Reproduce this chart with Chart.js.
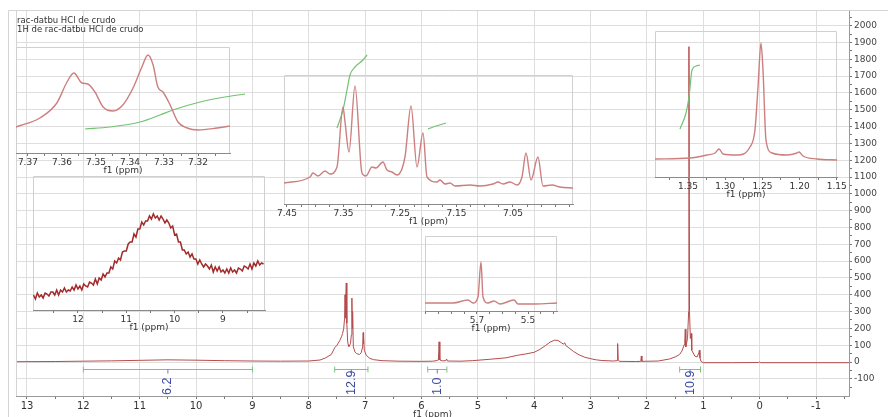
<!DOCTYPE html>
<html>
<head>
<meta charset="utf-8">
<script src="https://cdn.jsdelivr.net/npm/chart.js@4.4.1/dist/chart.umd.min.js"></script>
<style>
html, body { margin: 0; padding: 0; background: #fff; }
#hoja { position: relative; width: 888px; height: 417px; overflow: hidden; }
canvas { position: absolute; }
</style>
</head>
<body>
<div id="hoja">
  <canvas id="principal" width="888" height="417" style="left:0;top:0"></canvas>
  <canvas id="insA"></canvas>
  <canvas id="insB"></canvas>
  <canvas id="insC"></canvas>
  <canvas id="insD"></canvas>
  <canvas id="insE"></canvas>
</div>
<script>
// espectro completo 1H (ppm / intensidad)
var ppmEspectro = [13.2, 12.5, 12.0, 11.5, 11.0, 10.5, 10.0, 9.5, 9.0, 8.5, 8.0, 7.8, 7.7, 7.6, 7.54, 7.5, 7.45, 7.42, 7.40, 7.38, 7.365, 7.357, 7.35, 7.345, 7.335, 7.325, 7.31, 7.29, 7.26, 7.245, 7.235, 7.228, 7.222, 7.21, 7.18, 7.15, 7.10, 7.07, 7.045, 7.035, 7.03, 7.025, 7.015, 6.98, 6.92, 6.85, 6.7, 6.4, 6.0, 5.8, 5.74, 5.70, 5.688, 5.675, 5.63, 5.57, 5.555, 5.54, 5.3, 5.1, 4.8, 4.5, 4.3, 4.15, 4.0, 3.9, 3.8, 3.72, 3.64, 3.58, 3.52, 3.48, 3.46, 3.44, 3.4, 3.3, 3.2, 3.1, 3.0, 2.9, 2.8, 2.6, 2.53, 2.52, 2.51, 2.49, 2.2, 2.11, 2.1, 2.09, 1.8, 1.6, 1.5, 1.42, 1.38, 1.33, 1.32, 1.31, 1.28, 1.26, 1.255, 1.245, 1.23, 1.215, 1.205, 1.15, 1.11, 1.08, 1.07, 1.06, 1.04, 1.0, 0.5, 0.02, 0.0, -0.02, -1.6];
var intEspectro = [2, 3, 5, 7, 10, 13, 11, 8, 6, 5, 6, 12, 25, 45, 85, 100, 128, 150, 170, 200, 260, 400, 260, 340, 470, 230, 120, 90, 110, 160, 380, 200, 300, 90, 60, 50, 45, 55, 90, 175, 110, 150, 70, 40, 22, 14, 8, 5, 4, 5, 8, 12, 120, 12, 7, 8, 18, 6, 5, 8, 16, 25, 40, 48, 58, 75, 98, 118, 130, 128, 115, 106, 115, 98, 88, 62, 42, 28, 20, 13, 9, 6, 8, 110, 15, 4, 3, 4, 36, 4, 6, 18, 30, 45, 65, 110, 195, 90, 140, 300, 1875, 300, 140, 170, 70, 35, 30, 55, 70, 25, 3, -4, -4, -3, 0, -4, -4];
var ejeX = [13, 12, 11, 10, 9, 8, 7, 6, 5, 4, 3, 2, 1, 0, -1];
var ejeY = [-100, 0, 100, 200, 300, 400, 500, 600, 700, 800, 900, 1000, 1100, 1200, 1300, 1400, 1500, 1600, 1700, 1800, 1900, 2000];

// integrales
var intDesde = [12.0, 7.54, 5.89, 1.42];
var intHasta = [9.0, 6.95, 5.55, 1.05];
var intValor = ["6.2", "12.9", "1.0", "10.9"];

// ampliacion 7.37 - 7.31
var ppmA = [7.3735, 7.3665, 7.3615, 7.3585, 7.3565, 7.3541, 7.3524, 7.3503, 7.3479, 7.345, 7.3421, 7.3391, 7.3365, 7.3347, 7.3332, 7.3318, 7.3303, 7.3282, 7.3259, 7.3232, 7.32, 7.3144, 7.3106];
var intA = [26, 35, 50, 71, 80, 70, 69, 61, 46, 42, 48, 65, 86, 98, 88, 66, 61, 48, 31, 25, 23, 25, 27];
var ppmAint = [7.3532, 7.3459, 7.337, 7.3312, 7.3274, 7.3194, 7.3121, 7.3038];
var intAint = [24, 26, 31, 38, 43, 51, 56, 60];
var ejeA = [7.37, 7.36, 7.35, 7.34, 7.33, 7.32];

// ampliacion 12 - 8 (senal ancha con ruido)
var ppmB = [12.92, 12.88, 12.84, 12.80, 12.76, 12.72, 12.68, 12.64, 12.60, 12.56, 12.52, 12.48, 12.44, 12.40, 12.36, 12.32, 12.28, 12.24, 12.20, 12.16, 12.12, 12.08, 12.04, 12.00, 11.96, 11.92, 11.88, 11.84, 11.80, 11.76, 11.72, 11.68, 11.64, 11.60, 11.56, 11.52, 11.48, 11.44, 11.40, 11.36, 11.32, 11.28, 11.24, 11.20, 11.16, 11.12, 11.08, 11.04, 11.00, 10.96, 10.92, 10.88, 10.84, 10.80, 10.76, 10.72, 10.68, 10.64, 10.60, 10.56, 10.52, 10.48, 10.44, 10.40, 10.36, 10.32, 10.28, 10.24, 10.20, 10.16, 10.12, 10.08, 10.04, 10.00, 9.96, 9.92, 9.88, 9.84, 9.80, 9.76, 9.72, 9.68, 9.64, 9.60, 9.56, 9.52, 9.48, 9.44, 9.40, 9.36, 9.32, 9.28, 9.24, 9.20, 9.16, 9.12, 9.08, 9.04, 9.00, 8.96, 8.92, 8.88, 8.84, 8.80, 8.76, 8.72, 8.68, 8.64, 8.60, 8.56, 8.52, 8.48, 8.44, 8.40, 8.36, 8.32, 8.28, 8.24, 8.20, 8.16];
var intB = [15, 11, 17, 13, 15, 12, 17, 16, 14, 18, 18, 15, 20, 15, 20, 18, 22, 18, 20, 19, 23, 20, 25, 21, 24, 20, 26, 24, 23, 28, 27, 25, 31, 26, 32, 30, 36, 33, 37, 37, 43, 41, 49, 47, 52, 50, 58, 59, 59, 66, 68, 68, 76, 73, 81, 81, 88, 85, 89, 89, 94, 91, 96, 92, 94, 90, 94, 91, 87, 90, 87, 82, 84, 75, 76, 68, 68, 60, 60, 56, 58, 53, 56, 51, 51, 46, 50, 46, 43, 46, 44, 41, 45, 38, 43, 39, 43, 38, 40, 37, 41, 37, 42, 38, 40, 37, 42, 41, 39, 44, 43, 41, 46, 41, 47, 44, 49, 45, 47, 46];
var ejeB = [12, 11, 10, 9];

// ampliacion aromaticos
var ppmC = [7.4553, 7.4093, 7.404, 7.3951, 7.3827, 7.3739, 7.3615, 7.3509, 7.3473, 7.3403, 7.3296, 7.3173, 7.3102, 7.2996, 7.2925, 7.2801, 7.273, 7.2642, 7.2553, 7.2412, 7.2305, 7.2199, 7.2093, 7.2022, 7.1845, 7.1792, 7.1704, 7.1615, 7.1527, 7.1261, 7.1084, 7.0854, 7.0765, 7.0677, 7.0553, 7.0429, 7.0341, 7.027, 7.0181, 7.0058, 6.9969, 6.981, 6.9668, 6.9438];
var intC = [21, 27, 31, 28, 33, 30, 37, 97, 82, 52, 118, 31, 28, 37, 36, 42, 34, 32, 29, 47, 98, 37, 71, 27, 22, 24, 20, 21, 18, 19, 18, 20, 22, 20, 22, 19, 27, 51, 24, 47, 18, 19, 17, 16];
var ppmCint1 = [7.3615, 7.3509, 7.3438, 7.3385, 7.3296, 7.3155, 7.3084];
var intCint1 = [76, 94, 114, 129, 137, 144, 149];
var ppmCint2 = [7.2004, 7.1863, 7.1686];
var intCint2 = [75, 78, 81];
var ejeC = [7.45, 7.35, 7.25, 7.15, 7.05];

// ampliacion 1.35 - 1.15
var ppmD = [1.3944, 1.3473, 1.3245, 1.3137, 1.3083, 1.303, 1.2841, 1.2667, 1.26, 1.2559, 1.2519, 1.2492, 1.2452, 1.2371, 1.2169, 1.2035, 1.2008, 1.1954, 1.1766, 1.1497];
var intD = [18, 19, 22, 24, 28, 23, 22, 30, 47, 90, 134, 107, 37, 24, 22, 24, 25, 21, 18, 17];
var ppmDint = [1.3608, 1.3527, 1.3487, 1.3446, 1.3392, 1.3339];
var intDint = [48, 64, 80, 107, 111, 112];
var ejeD = [1.35, 1.30, 1.25, 1.20, 1.15];

// ampliacion 5.7
var ppmE = [5.9039, 5.7941, 5.7353, 5.7157, 5.6961, 5.6843, 5.6765, 5.6569, 5.6333, 5.6098, 5.5549, 5.5392, 5.4725, 5.3863];
var intE = [8, 8, 11, 8, 14, 49, 14, 8, 10, 7, 11, 7, 7, 8];
var ejeE = [5.7, 5.5];

Chart.defaults.font.family = "'DejaVu Sans', sans-serif";
Chart.defaults.color = '#333';

function serie(xs, ys) {
    return xs.map(function (x, i) { return { x: x, y: ys[i] }; });
}

// marcas mayores (con texto) y menores cada 'paso'
function marcas(etiquetas, paso, min, max) {
    var lista = [];
    var base = etiquetas[0];
    var n0 = Math.ceil((min - base) / paso - 1e-6);
    var n1 = Math.floor((max - base) / paso + 1e-6);
    for (var n = n0; n <= n1; n++) {
        lista.push({ value: +(base + n * paso).toFixed(6) });
    }
    return lista;
}

function esEtiqueta(v, etiquetas, paso) {
    return etiquetas.some(function (e) { return Math.abs(e - v) < paso / 4; });
}

var integrales = {
    id: 'integrales',
    afterDraw: function (c) {
        var ctx = c.ctx, a = c.chartArea;
        var x = c.scales.x, y = c.scales.y;
        ctx.save();
        // marcos
        ctx.strokeStyle = '#d4d4d4';
        ctx.lineWidth = 1;
        ctx.beginPath();
        ctx.moveTo(8.5, 417); ctx.lineTo(8.5, 10.5); ctx.lineTo(888, 10.5);
        ctx.moveTo(a.left + 0.5, a.bottom); ctx.lineTo(a.left + 0.5, a.top + 0.5);
        ctx.stroke();
        // titulo
        ctx.fillStyle = '#333';
        ctx.font = "8.5px 'DejaVu Sans'";
        ctx.textBaseline = 'middle';
        ctx.textAlign = 'left';
        ctx.fillText('rac-datbu HCl de crudo', 17, 20.5);
        ctx.fillText('1H de rac-datbu HCl de crudo', 17, 29.5);
        // integrales
        var yb = Math.round(y.getPixelForValue(-42)) + 0.5;
        for (var i = 0; i < intValor.length; i++) {
            var x1 = x.getPixelForValue(intDesde[i]);
            var x2 = x.getPixelForValue(intHasta[i]);
            var xm = (x1 + x2) / 2;
            ctx.strokeStyle = '#7cc47c';
            ctx.beginPath();
            ctx.moveTo(x1, yb); ctx.lineTo(x2, yb);
            ctx.moveTo(x1, yb - 3); ctx.lineTo(x1, yb + 3);
            ctx.moveTo(x2, yb - 3); ctx.lineTo(x2, yb + 3);
            ctx.stroke();
            ctx.strokeStyle = '#6f79b8';
            ctx.beginPath();
            ctx.moveTo(xm, yb); ctx.lineTo(xm, yb + 4);
            ctx.stroke();
            ctx.save();
            ctx.translate(xm, a.bottom - 1);
            ctx.rotate(-Math.PI / 2);
            ctx.fillStyle = '#3a48a4';
            ctx.font = "12.5px 'Liberation Sans'";
            ctx.textAlign = 'left';
            ctx.textBaseline = 'middle';
            ctx.fillText(intValor[i], 0, 0);
            ctx.restore();
        }
        ctx.restore();
    }
};

new Chart(document.getElementById('principal'), {
    type: 'line',
    data: {
        datasets: [{
            data: serie(ppmEspectro, intEspectro),
            borderColor: '#b44c4c',
            borderWidth: 1,
            pointRadius: 0,
            tension: 0
        }]
    },
    options: {
        responsive: false,
        animation: false,
        devicePixelRatio: 1,
        layout: { padding: { left: 16, top: 10, right: 0, bottom: 0 } },
        plugins: { legend: { display: false }, tooltip: { enabled: false } },
        scales: {
            x: {
                type: 'linear', reverse: true, min: -1.585, max: 13.195,
                afterBuildTicks: function (s) { s.ticks = marcas(ejeX, 0.5, s.min, s.max); },
                afterFit: function (s) { s.height = 21; s.paddingLeft = 0; s.paddingRight = 0; },
                grid: {
                    color: function (c) { return c.tick && esEtiqueta(c.tick.value, ejeX, 0.5) ? '#dedede' : 'rgba(0,0,0,0)'; },
                    tickLength: 3, tickColor: '#777'
                },
                border: { color: '#999' },
                ticks: {
                    autoSkip: false, maxRotation: 0, padding: 1, font: { size: 10 },
                    callback: function (v) { return esEtiqueta(v, ejeX, 0.5) ? v.toFixed(0) : ''; }
                },
                title: { display: true, text: 'f1 (ppm)', font: { size: 9 }, padding: { top: 0, bottom: -3 } }
            },
            y: {
                position: 'right', min: -202, max: 2093,
                afterBuildTicks: function (s) { s.ticks = marcas(ejeY, 50, -150, 2050); },
                afterFit: function (s) { s.width = 39; s.paddingTop = 0; s.paddingBottom = 0; },
                grid: {
                    color: function (c) { return c.tick && esEtiqueta(c.tick.value, ejeY, 50) ? '#dedede' : 'rgba(0,0,0,0)'; },
                    tickLength: 3, tickColor: '#777'
                },
                border: { color: '#999' },
                ticks: {
                    autoSkip: false, padding: 2, color: '#444', font: { size: 9 },
                    callback: function (v) { return esEtiqueta(v, ejeY, 50) ? String(v) : ''; }
                }
            }
        }
    },
    plugins: [integrales]
});

var marco = {
    id: 'marco',
    beforeDatasetsDraw: function (c) {
        var a = c.chartArea, ctx = c.ctx;
        ctx.save();
        ctx.strokeStyle = '#d0d0d0';
        ctx.lineWidth = 1;
        ctx.beginPath();
        ctx.moveTo(a.left + 0.5, a.bottom);
        ctx.lineTo(a.left + 0.5, a.top + 0.5);
        ctx.lineTo(a.right - 0.5, a.top + 0.5);
        ctx.lineTo(a.right - 0.5, a.bottom);
        ctx.stroke();
        ctx.restore();
    }
};

function recuadro(id, caja, rango, ymax, series, etiquetas, paso, dec) {
    var cv = document.getElementById(id);
    cv.width = caja[2] - caja[0] + 30;
    cv.height = caja[3] - caja[1] + 25 + 23;
    cv.style.left = (caja[0] - 15) + 'px';
    cv.style.top = (caja[1] - 25) + 'px';
    return new Chart(cv, {
        type: 'line',
        data: { datasets: series },
        options: {
            responsive: false,
            animation: false,
            devicePixelRatio: 1,
            layout: { padding: { left: 15, right: 15, top: 25, bottom: 0 } },
            plugins: { legend: { display: false }, tooltip: { enabled: false } },
            elements: { point: { radius: 0 } },
            scales: {
                x: {
                    type: 'linear', reverse: true, min: rango[1], max: rango[0],
                    afterBuildTicks: function (s) { s.ticks = marcas(etiquetas, paso, s.min, s.max); },
                    afterFit: function (s) { s.height = 23; s.paddingLeft = 0; s.paddingRight = 0; },
                    grid: { drawOnChartArea: false, tickLength: 3, tickColor: '#777' },
                    border: { color: '#8a8a8a' },
                    ticks: {
                        autoSkip: false, maxRotation: 0, padding: 1, font: { size: 9 },
                        callback: function (v) { return esEtiqueta(v, etiquetas, paso) ? v.toFixed(dec) : ''; }
                    },
                    title: { display: true, text: 'f1 (ppm)', font: { size: 9 }, padding: 0 }
                },
                y: { display: false, min: 0, max: ymax }
            }
        },
        plugins: [marco]
    });
}

function rojo(xs, ys) {
    return { data: serie(xs, ys), borderColor: '#cc7f7f', borderWidth: 1.4, cubicInterpolationMode: 'monotone' };
}
function verde(xs, ys) {
    return { data: serie(xs, ys), borderColor: '#72c272', borderWidth: 1.2, cubicInterpolationMode: 'monotone', clip: false };
}

recuadro('insA', [16, 47, 230, 153], [7.3735, 7.3106], 106,
    [rojo(ppmA, intA), verde(ppmAint, intAint)], ejeA, 0.005, 2);
recuadro('insB', [33, 176, 265, 310], [12.93, 8.13], 134,
    [{ data: serie(ppmB, intB), borderColor: '#a22a2a', borderWidth: 1.5, tension: 0 }], ejeB, 0.5, 0);
recuadro('insC', [284, 75, 573, 204], [7.4553, 6.9438], 129,
    [rojo(ppmC, intC), verde(ppmCint1, intCint1), verde(ppmCint2, intCint2)], ejeC, 0.025, 2);
recuadro('insD', [655, 31, 837, 177], [1.3944, 1.1497], 146,
    [rojo(ppmD, intD), verde(ppmDint, intDint)], ejeD, 0.025, 2);
recuadro('insE', [425, 236, 557, 311], [5.9039, 5.3863], 75,
    [rojo(ppmE, intE)], ejeE, 0.05, 1);
</script>
</body>
</html>
